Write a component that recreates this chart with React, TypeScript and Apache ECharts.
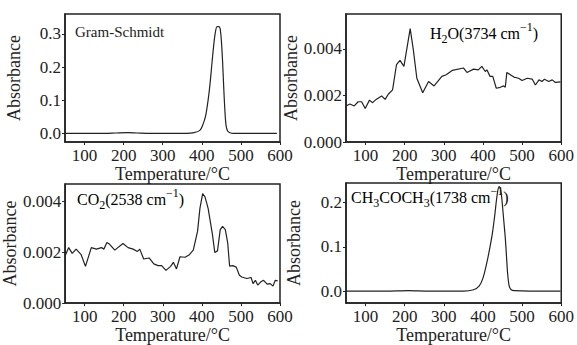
import React, { useEffect, useRef } from 'react';
import * as echarts from 'echarts';

const xTickValues = [100, 200, 300, 400, 500, 600];
const yTicksGS = [0, 0.1, 0.2, 0.3];
const yTicksH2O = [0, 0.002, 0.004];
const yTicksCO2 = [0, 0.002, 0.004];
const yTicksAce = [0, 0.1, 0.2];

const gsData: number[][] = [
  [50, 0.001], [100, 0.001], [150, 0.001], [180, 0.002], [210, 0.003], [235, 0.002], [270, 0.001],
  [320, 0.001], [360, 0.001], [380, 0.003], [395, 0.01], [403, 0.028], [410, 0.055], [416, 0.1],
  [421, 0.15], [425, 0.2], [429, 0.25], [434, 0.3], [439, 0.322], [444, 0.322], [447, 0.315],
  [450, 0.28], [453, 0.22], [456, 0.14], [459, 0.07], [462, 0.025], [466, 0.008], [472, 0.003],
  [480, 0.001], [520, 0.001], [592, 0.001],
];

const h2oData: number[][] = [
  [50, 0.00155], [60, 0.00163], [71, 0.00155], [81, 0.00173], [90, 0.00173], [99, 0.00144],
  [110, 0.0018], [118, 0.00169], [127, 0.00183], [141, 0.00198], [150, 0.00183], [158, 0.00205],
  [169, 0.00224], [179, 0.00332], [188, 0.00351], [198, 0.00325], [214, 0.00487], [222, 0.00397],
  [231, 0.00274], [246, 0.00212], [261, 0.0026], [275, 0.00241], [295, 0.00282], [306, 0.00289],
  [322, 0.00308], [350, 0.00318], [359, 0.00299], [376, 0.00313], [388, 0.0031], [397, 0.00325],
  [406, 0.00303], [410, 0.0031], [418, 0.00282], [425, 0.00282], [434, 0.00231], [444, 0.00235],
  [453, 0.00241], [457, 0.00235], [461, 0.00299], [479, 0.00279], [491, 0.00274], [500, 0.00264],
  [513, 0.00274], [526, 0.0027], [534, 0.00245], [543, 0.00267], [551, 0.0026], [557, 0.0027],
  [568, 0.0026], [577, 0.00267], [585, 0.00256], [598, 0.00258],
];

const co2Data: number[][] = [
  [50, 0.00187], [59, 0.00219], [68, 0.00196], [78, 0.00213], [91, 0.00191], [102, 0.00145],
  [117, 0.00219], [130, 0.00213], [143, 0.00219], [149, 0.00213], [157, 0.00239], [164, 0.00232],
  [177, 0.00209], [198, 0.00235], [211, 0.00219], [224, 0.00213], [235, 0.00204], [241, 0.00213],
  [251, 0.00174], [265, 0.00178], [277, 0.00155], [288, 0.00148], [297, 0.00148], [308, 0.00129],
  [320, 0.00145], [327, 0.00161], [335, 0.00135], [344, 0.00183], [357, 0.00181], [368, 0.00191],
  [378, 0.00209], [389, 0.00284], [395, 0.00374], [402, 0.00432], [408, 0.00419], [416, 0.00374],
  [427, 0.00271], [433, 0.002], [440, 0.00206], [447, 0.0029], [453, 0.00303], [460, 0.0029],
  [466, 0.00239], [471, 0.00146], [479, 0.00148], [488, 0.00142], [496, 0.0011], [502, 0.00103],
  [515, 0.00097], [526, 0.00101], [531, 0.00077], [537, 0.0009], [543, 0.00071], [551, 0.00084],
  [558, 0.0009], [567, 0.00075], [575, 0.00077], [582, 0.00067], [588, 0.0009], [594, 0.00088],
];

const aceData: number[][] = [
  [50, 0.001], [150, 0.001], [210, 0.002], [260, 0.001], [350, 0.001], [376, 0.004], [390, 0.012],
  [400, 0.03], [410, 0.065], [418, 0.1], [424, 0.13], [430, 0.17], [436, 0.215], [441, 0.235],
  [445, 0.23], [449, 0.2], [453, 0.16], [457, 0.12], [460, 0.08], [463, 0.04], [467, 0.012],
  [472, 0.004], [480, 0.002], [520, 0.001], [598, 0.001],
];

const FONT = '"Liberation Serif", "Times New Roman", serif';
const INK = '#222';

export default function App() {
  const ref = useRef<HTMLDivElement>(null);
  useEffect(() => {
    const chart = echarts.init(ref.current!, null, { renderer: 'svg' });

    const grids = [
      { left: 65, top: 14, width: 215, height: 128 },
      { left: 346, top: 14, width: 216, height: 128 },
      { left: 65, top: 184, width: 215, height: 123 },
      { left: 346, top: 183, width: 216, height: 123 },
    ];
    const yCfg = [
      { min: -0.025, max: 0.36, ticks: yTicksGS, dec: 1, gap: 42 },
      { min: 0, max: 0.0055, ticks: yTicksH2O, dec: 3, gap: 46 },
      { min: 0, max: 0.0047, ticks: yTicksCO2, dec: 3, gap: 41 },
      { min: -0.026, max: 0.243, ticks: yTicksAce, dec: 1, gap: 43 },
    ];
    const xNameGap = [21, 21, 19, 19];
    const datasets = [gsData, h2oData, co2Data, aceData];
    const smooth = [true, false, false, true];

    const rich = {
      n: { fontSize: 16, lineHeight: 24, fontFamily: FONT, color: INK, verticalAlign: 'middle' },
      sub: { fontSize: 12, lineHeight: 13, fontFamily: FONT, color: INK, verticalAlign: 'bottom' },
      sup: { fontSize: 12, lineHeight: 11, fontFamily: FONT, color: INK, verticalAlign: 'top' },
    };

    const option: any = {
      animation: false,
      backgroundColor: '#fff',
      textStyle: { fontFamily: FONT, color: INK },
      grid: grids.map((g) => ({
        ...g,
        show: true,
        borderColor: INK,
        borderWidth: 1.5,
        backgroundColor: 'transparent',
        containLabel: false,
      })),
      xAxis: grids.map((_, i) => ({
        type: 'value',
        gridIndex: i,
        min: 50,
        max: 600,
        name: 'Temperature/°C',
        nameLocation: 'middle',
        nameGap: xNameGap[i],
        nameTextStyle: { fontSize: 18, fontFamily: FONT, color: INK },
        axisLine: { show: true, onZero: false, lineStyle: { color: INK, width: 1.5 } },
        axisTick: { show: true, length: 3, inside: false, customValues: xTickValues, lineStyle: { color: INK } },
        axisLabel: { fontSize: 17, margin: 5, color: INK, fontFamily: FONT, customValues: xTickValues, showMinLabel: true, showMaxLabel: true },
        splitLine: { show: false },
      })),
      yAxis: yCfg.map((c, i) => ({
        type: 'value',
        gridIndex: i,
        min: c.min,
        max: c.max,
        name: 'Absorbance',
        nameLocation: 'middle',
        nameGap: c.gap,
        nameTextStyle: { fontSize: 18, fontFamily: FONT, color: INK },
        axisLine: { show: true, onZero: false, lineStyle: { color: INK, width: 1.5 } },
        axisTick: { show: true, length: 3, inside: false, customValues: c.ticks, lineStyle: { color: INK } },
        axisLabel: {
          fontSize: 17,
          margin: 4,
          color: INK,
          fontFamily: FONT,
          customValues: c.ticks,
          formatter: (v: number) => v.toFixed(c.dec),
        },
        splitLine: { show: false },
      })),
      series: datasets.map((d, i) => ({
        type: 'line',
        xAxisIndex: i,
        yAxisIndex: i,
        data: d,
        showSymbol: false,
        smooth: smooth[i] ? 0.3 : false,
        lineStyle: { color: INK, width: 1.2 },
      })),
      graphic: [
        { type: 'text', left: 75, top: 24, style: { text: 'Gram-Schmidt', fontSize: 15, fontFamily: FONT, fill: INK } },
        { type: 'text', left: 430, top: 21, style: { text: '{n|H}{sub|2}{n|O(3734 cm}{sup|−1}{n|)}', rich } },
        { type: 'text', left: 77, top: 187, style: { text: '{n|CO}{sub|2}{n|(2538 cm}{sup|−1}{n|)}', rich } },
        { type: 'text', left: 351, top: 185, style: { text: '{n|CH}{sub|3}{n|COCH}{sub|3}{n|(1738 cm}{sup|−1}{n|)}', rich } },
      ],
    };
    chart.setOption(option);
    return () => chart.dispose();
  }, []);
  return (
    <div
      ref={ref}
      style={{ position: 'fixed', left: 0, top: 0, width: 577, height: 345, background: '#fff' }}
    />
  );
}
